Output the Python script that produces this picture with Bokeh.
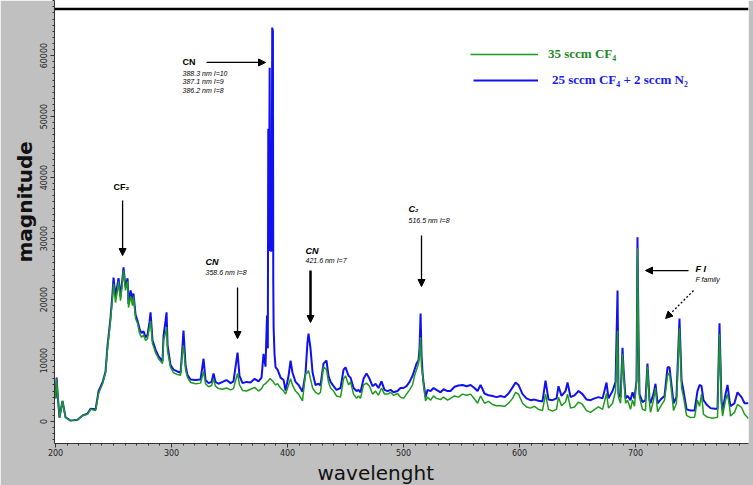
from bokeh.plotting import figure
from bokeh.models import (Range1d, SingleIntervalTicker, Span, Arrow, NormalHead,
                          Legend, LegendItem, Title, Label)
from bokeh.embed import file_html
from bokeh.resources import INLINE

# ---- data (wavelength in nm, intensity in counts) ----
wavelength = [
    200.0, 200.9, 202.0, 203.4, 206.0, 208.6, 212.9, 219.0, 223.3, 227.6,
    230.2, 234.5, 237.1, 240.5, 243.1, 244.8, 247.4, 249.1, 250.0, 251.7,
    253.4, 254.3, 256.0, 257.8, 258.6, 260.3, 262.1, 262.9, 264.7, 266.4,
    267.2, 269.0, 270.7, 272.4, 274.1, 275.9, 277.6, 279.3, 281.0, 281.9,
    283.6, 286.2, 288.8, 292.2, 293.1, 294.8, 295.7, 296.6, 299.1, 301.7,
    305.2, 307.8, 309.5, 310.3, 312.1, 313.8, 316.4, 320.7, 325.0, 327.6,
    329.3, 331.9, 334.5, 336.2, 337.9, 340.5, 344.0, 347.4, 350.9, 353.4,
    356.9, 358.6, 361.2, 364.7, 368.1, 371.6, 375.0, 377.6, 379.3, 381.0,
    382.3, 383.0, 383.4, 383.9, 384.6, 385.1, 386.3, 386.8, 387.4, 387.7,
    388.0, 388.8, 389.7, 391.4, 394.0, 396.6, 398.3, 400.9, 402.6, 404.3,
    406.9, 409.5, 412.9, 415.5, 417.2, 418.1, 419.8, 421.6, 424.1, 426.7,
    428.4, 431.0, 433.6, 435.3, 437.1, 439.7, 442.2, 445.7, 448.3, 450.0,
    452.6, 454.3, 456.9, 459.5, 461.2, 462.9, 465.5, 468.1, 470.7, 473.3,
    475.9, 478.4, 481.0, 483.6, 486.2, 488.8, 491.4, 494.8, 497.4, 500.0,
    502.6, 505.2, 507.8, 509.5, 511.2, 512.9, 513.8, 514.7, 515.5, 516.4,
    517.2, 519.0, 520.7, 523.3, 525.9, 528.4, 531.9, 534.5, 537.9, 540.5,
    544.0, 547.4, 550.9, 554.3, 557.8, 561.2, 563.8, 566.4, 569.8, 573.3,
    576.7, 580.2, 583.6, 587.1, 590.5, 594.0, 596.6, 599.1, 602.6, 606.0,
    609.5, 612.9, 616.4, 619.8, 622.4, 625.0, 628.4, 631.9, 633.6, 636.2,
    639.7, 641.4, 644.0, 647.4, 650.9, 654.3, 657.8, 661.2, 664.7, 668.1,
    671.6, 675.0, 676.7, 680.2, 682.8, 684.5, 685.3, 687.1, 688.8, 689.7,
    691.4, 693.1, 695.7, 697.4, 699.1, 700.9, 701.7, 702.6, 703.4, 706.0,
    708.6, 710.3, 712.1, 712.9, 715.5, 717.2, 719.0, 721.6, 725.0, 727.6,
    729.3, 731.0, 732.8, 735.3, 737.9, 739.7, 741.4, 744.0, 747.4, 750.9,
    753.4, 755.2, 756.9, 758.6, 761.2, 764.7, 768.1, 770.7, 772.4, 774.1,
    775.0, 777.6, 779.3, 781.0, 781.9, 785.3, 787.9, 791.4, 794.0, 797.4,
]

cf4 = [  # 35 sccm CF4 (green)
    3800, 7000, 4000, 650, 3400, 650, 150, 300, 1000, 1200,
    2000, 1800, 4600, 6200, 8000, 12000, 16600, 20300, 22600, 19500,
    21500, 23000, 19800, 23000, 24800, 21500, 23000, 18700, 20500, 19000,
    20500, 16900, 16100, 14500, 13800, 14200, 13300, 13600, 15500, 16500,
    12800, 11300, 10300, 9500, 13300, 14500, 15500, 11500, 8900, 8000,
    7700, 7600, 11500, 12500, 8500, 7200, 6400, 6200, 6300, 8200,
    6200, 5700, 5900, 7000, 5800, 5400, 5300, 5500, 5200, 5400,
    7900, 6000, 5100, 5000, 5300, 5600, 5000, 5400, 6000, 6200,
    6500, 6600, 6700, 6800, 7000, 7000, 6800, 6700, 6600, 6500,
    6400, 6200, 6000, 6200, 5500, 5000, 4500, 6000, 7000, 6000,
    5000, 4500, 3400, 7900, 8000, 8400, 7000, 5500, 4800, 4500,
    4800, 9000, 8500, 6500, 5500, 5000, 4200, 4000, 7000, 7500,
    6000, 6500, 4500, 3800, 4200, 3800, 6000, 6300, 5800, 4500,
    5000, 4300, 5500, 4500, 4500, 4800, 4300, 4600, 4000, 3800,
    4500, 5200, 6000, 7500, 8500, 9500, 11000, 13800, 9000, 7900,
    6000, 3400, 4000, 3500, 4200, 3800, 3600, 4000, 3500, 3800,
    4200, 4000, 4500, 4300, 4500, 3700, 3000, 4200, 3000, 3300,
    2800, 2600, 2600, 2500, 3000, 3800, 4800, 4500, 3000, 2400,
    2200, 2500, 2000, 1800, 4500, 2000, 1700, 2000, 4000, 2600,
    3200, 4500, 2200, 2400, 3200, 2800, 1800, 1500, 2000, 2400,
    2000, 4600, 2200, 3000, 5000, 14900, 4000, 3000, 11100, 7900,
    3000, 3500, 2000, 3500, 2500, 6700, 28400, 13000, 4000, 2000,
    1800, 9000, 3000, 1500, 3500, 5500, 1600, 2500, 3500, 7500,
    8000, 5000, 1800, 3000, 15300, 5500, 4000, 1000, 650, 700,
    3500, 2500, 4500, 1200, 800, 600, 600, 700, 14400, 3000,
    900, 3500, 4500, 2500, 900, 1500, 2800, 2300, 1200, 500,
]

cf4_n2 = [  # 25 sccm CF4 + 2 sccm N2 (blue)
    3800, 7200, 4000, 650, 3400, 700, 150, 300, 1000, 1300,
    2100, 2000, 5000, 6400, 8200, 12400, 17000, 21000, 23600, 20500,
    22500, 23500, 20500, 23700, 25300, 22000, 23500, 19300, 21500, 20000,
    21000, 17500, 16500, 15200, 14500, 14800, 13800, 14200, 16300, 17900,
    13300, 11800, 10700, 9900, 14000, 16500, 17900, 12500, 9300, 8500,
    8200, 8000, 12500, 14900, 9200, 7600, 6900, 6800, 6900, 10300,
    6800, 6300, 6500, 7900, 6500, 6200, 6500, 6800, 6300, 6600,
    11300, 7500, 6300, 6500, 6400, 7000, 6600, 7200, 11100, 9000,
    17400, 12000, 48000, 28000, 58000, 28000, 28000, 64600, 64000, 23100,
    15400, 11000, 8900, 8500, 7200, 6800, 5100, 7500, 10000, 8000,
    6500, 6000, 4900, 7900, 13000, 14400, 12000, 8000, 6000, 6200,
    5900, 9500, 10000, 7500, 6500, 5800, 5200, 5500, 8500, 8900,
    7500, 7200, 5500, 5000, 5200, 4800, 7000, 7900, 7000, 5800,
    6200, 5500, 6600, 5200, 5000, 5200, 4800, 5000, 5500, 5500,
    5800, 6500, 7500, 8500, 9500, 10000, 12000, 17700, 11000, 7900,
    6500, 4000, 5200, 5000, 5500, 5200, 4800, 5300, 5000, 5000,
    5700, 5900, 6000, 5800, 6000, 5500, 5000, 6000, 4600, 4300,
    4200, 4000, 4200, 4000, 4600, 5600, 6400, 6000, 4500, 3800,
    3500, 3600, 3400, 3300, 6700, 3600, 3500, 3800, 5800, 4200,
    5000, 6400, 4000, 4300, 5000, 4500, 3600, 3500, 3800, 4000,
    3800, 6400, 3800, 5000, 6500, 21500, 4500, 4000, 12100, 8500,
    3800, 4200, 3500, 4800, 3800, 6700, 30200, 13600, 4500, 3200,
    3500, 9500, 3500, 3000, 4500, 6200, 3000, 3600, 4200, 8900,
    8900, 6000, 3000, 4000, 16900, 6700, 5000, 2000, 1800, 1800,
    5000, 6000, 5800, 3500, 2800, 2200, 2100, 2100, 16100, 3500,
    1800, 4500, 6000, 3500, 2500, 3000, 4800, 4000, 3000, 3000,
]

series_labels = ["35 sccm CF\u2084", "25 sccm CF\u2084 + 2 sccm N\u2082"]

GREEN = "#1f9a1f"
BLUE = "#1010f0"

p = figure(width=753, height=485, output_backend="svg", toolbar_location=None,
           x_range=Range1d(199.1, 797.4), y_range=Range1d(-3600, 69040),
           min_border_left=54, min_border_right=5, min_border_top=0,
           min_border_bottom=42)
p.background_fill_color = "white"
p.border_fill_color = "#c0c0c0"
p.outline_line_color = None
p.grid.visible = False

# axes
p.xaxis.ticker = SingleIntervalTicker(interval=100, num_minor_ticks=10)
p.yaxis.ticker = SingleIntervalTicker(interval=10000, num_minor_ticks=10)
for ax in (p.xaxis, p.yaxis):
    ax.axis_line_color = "#333333"
    ax.major_tick_line_color = "#333333"
    ax.minor_tick_line_color = "#333333"
    ax.major_tick_in = 0
    ax.major_tick_out = 4
    ax.minor_tick_in = 0
    ax.minor_tick_out = 2
    ax.major_label_text_font = "DejaVu Sans"
    ax.major_label_text_font_size = "8px"
    ax.major_label_text_color = "#222222"
p.xaxis.major_label_standoff = 1
p.yaxis.major_label_standoff = 3
p.yaxis.major_label_orientation = "vertical"

# axis titles
p.add_layout(Title(text="wavelenght", align="left", offset=263, standoff=0,
                   text_font="DejaVu Sans", text_font_size="20px",
                   text_font_style="normal", text_color="#111111"), "below")
p.add_layout(Title(text="magnitude", align="left", offset=181, standoff=2,
                   text_font="DejaVu Sans", text_font_size="20px",
                   text_font_style="bold", text_color="#111111"), "left")

# spectra
rb = p.line(wavelength, cf4_n2, line_color=BLUE, line_width=2)
rg = p.line(wavelength, cf4, line_color=GREEN, line_width=1.5)

# thick top border
p.add_layout(Span(location=67650, dimension="width", line_color="black", line_width=2.5))

# legends
common = dict(padding=0, margin=0, spacing=0, border_line_color=None,
              background_fill_alpha=0, glyph_height=20, label_height=20,
              label_text_font="Liberation Serif", label_text_font_style="bold",
              label_text_font_size="13px")
p.add_layout(Legend(items=[LegendItem(label=series_labels[0], renderers=[rg])],
                    location=(416, 379), glyph_width=68, label_standoff=10,
                    label_text_color="#1e8a1e", **common))
p.add_layout(Legend(items=[LegendItem(label=series_labels[1], renderers=[rb])],
                    location=(419, 353), glyph_width=65, label_standoff=14,
                    label_text_color="#1a1aee", **common))

# annotations
def lab(x, y, t, size="9px", style="bold"):
    p.add_layout(Label(x=x, y=y, text=t, text_font="Liberation Sans",
                       text_font_size=size, text_font_style=style,
                       text_color="black", text_baseline="middle"))

def arr(x0, y0, x1, y1, w=1.3, dash="solid"):
    p.add_layout(Arrow(end=NormalHead(size=7, fill_color="black", line_color="black"),
                       x_start=x0, y_start=y0, x_end=x1, y_end=y1,
                       line_color="black", line_width=w, line_dash=dash))

lab(250.0, 38540, "CF\u2082")
arr(257.8, 36240, 257.8, 27220)

lab(309.5, 58880, "CN")
lab(309.5, 57070, "388.3 nm  I=10", "7px", "italic")
lab(309.5, 55680, "387.1 nm  I=9", "7px", "italic")
lab(309.5, 54280, "386.2 nm  I=8", "7px", "italic")
arr(330.2, 58880, 381.0, 58880)

lab(329.3, 26080, "CN", "9px", "bold italic")
lab(329.3, 24440, "358.6 nm  I=8", "7px", "italic")
arr(356.9, 21980, 356.9, 13610)

lab(415.5, 28040, "CN", "9px", "bold italic")
lab(415.5, 26400, "421.6 nm  I=7", "7px", "italic")
arr(419.8, 24760, 419.8, 16240, w=2.5)

lab(504.3, 34930, "C\u2082", "9px", "bold italic")
lab(504.3, 32960, "516.5 nm  I=8", "7px", "italic")
arr(515.5, 30500, 515.5, 22140)

lab(751.7, 25090, "F I", "9px", "bold italic")
lab(751.7, 23290, "F family", "7px", "italic")
arr(745.7, 24760, 708.6, 24760)
arr(750.0, 21480, 725.9, 16890, dash="2 2")

open("out.html", "w").write(file_html(p, INLINE))
